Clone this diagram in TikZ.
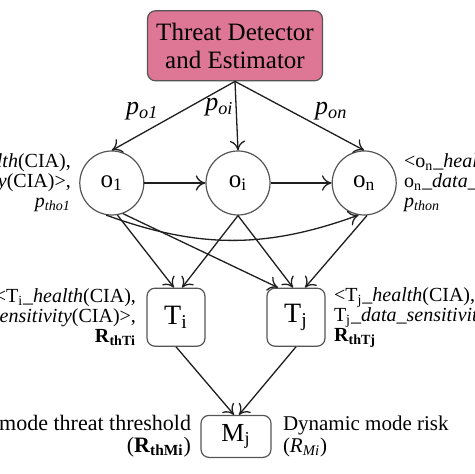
\documentclass[tikz,border=0pt]{standalone}
\usepackage{fontspec}
\setmainfont{Liberation Serif}
\usetikzlibrary{arrows.meta,positioning,calc}
\definecolor{threatpink}{RGB}{222,118,150}
\definecolor{edgegray}{RGB}{85,85,85}
\definecolor{linedark}{RGB}{30,30,30}

\begin{document}
\begin{tikzpicture}[
    node distance=30.5pt,
    box/.style={draw=edgegray,rounded corners=4pt,align=center,line width=0.6pt},
    obj/.style={circle,draw=edgegray,line width=0.6pt,minimum size=32pt,inner sep=0pt,font=\fontsize{12.5}{14}\selectfont},
    arrow/.style={-{To[length=1.7mm,width=2.7mm]},line width=0.65pt,draw=linedark},
    plbl/.style={font=\fontsize{13}{14}\selectfont,inner sep=1pt},
    info/.style={font=\fontsize{10}{10}\selectfont,inner sep=0pt}
  ]
    \useasboundingbox (-119pt,-145.5pt) rectangle (118pt,91.5pt);
    \clip (-119pt,-145.5pt) rectangle (118pt,91.5pt);

    \node[obj] (oi) at (0,0) {o\textsubscript{i}};
    \node[obj,left=of oi] (o1) {o\textsubscript{1}};
    \node[obj,right=of oi] (on) {o\textsubscript{n}};
    \node[box,fill=threatpink,minimum width=87.5pt,minimum height=35pt,above=34.5pt of oi,xshift=-1.5pt,font=\fontsize{12.5}{14}\selectfont] (detector) {Threat Detector\\and Estimator};
    \node[box,minimum size=29pt,below=36pt of oi,xshift=-31pt,font=\fontsize{14}{15}\selectfont] (Ti) {T\textsubscript{i}};
    \node[box,minimum size=29pt,below=36pt of oi,xshift=29pt,font=\fontsize{14}{15}\selectfont] (Tj) {T\textsubscript{j}};
    \node[box,minimum width=35pt,minimum height=21pt,below=34pt of $(Ti.south)!0.5!(Tj.south)$,font=\fontsize{13}{14}\selectfont] (Mj) {M\textsubscript{j}};

    \node[info,left=4pt of o1,align=right] (o1info) {<o\textsubscript{1}\_\textit{health}(CIA),\\o\textsubscript{1}\_\textit{data\_sensitivity}(CIA)>,\\\textit{p}\textsubscript{\textit{tho1}}};
    \node[info,right=3.5pt of on,align=left] (oninfo) {<o\textsubscript{n}\_\textit{health}(CIA),\\o\textsubscript{n}\_\textit{data\_sensitivity}(CIA)>,\\\textit{p}\textsubscript{\textit{thon}}};
    \node[info,left=5pt of Ti,align=right] (Tiinfo) {<T\textsubscript{i}\_\textit{health}(CIA),\\T\textsubscript{i}\_\textit{data\_sensitivity}(CIA)>,\\\textbf{R}\textsubscript{\textbf{thTi}}};
    \node[info,right=4pt of Tj,align=left] (Tjinfo) {<T\textsubscript{j}\_\textit{health}(CIA),\\T\textsubscript{j}\_\textit{data\_sensitivity}(CIA)>,\\\textbf{R}\textsubscript{\textbf{thTj}}};
    \node[info,left=4.5pt of Mj,align=right,font=\fontsize{11}{11}\selectfont] (static) {Static mode threat threshold\\(\textbf{R}\textsubscript{\textbf{thMi}})};
    \node[info,right=5.5pt of Mj,align=left,font=\fontsize{10.5}{11}\selectfont] (dynamic) {Dynamic mode risk\\(\textit{R}\textsubscript{\textit{Mi}})};

    \draw[arrow] (detector.south) -- node[plbl,pos=0.6,above left] {\textit{p}\textsubscript{\textit{o1}}} (o1.north);
    \draw[arrow] (detector.south) -- node[plbl,pos=0.38,left] {\textit{p}\textsubscript{\textit{oi}}} (oi.north);
    \draw[arrow] (detector.south) -- node[plbl,pos=0.6,above right] {\textit{p}\textsubscript{\textit{on}}} (on.north);
    \draw[arrow] (o1) -- (oi);
    \draw[arrow] (oi) -- (on);
    \draw[arrow] (o1.-80) -- ([xshift=-1pt]Ti.north);
    \draw[arrow] (o1.-70) -- ([xshift=-9pt]Tj.north);
    \draw[arrow] (o1.-100) to[out=-20,in=-160] (on.-100);
    \draw[arrow] (oi.south) -- ([xshift=3pt]Ti.north);
    \draw[arrow] (oi.south) -- ([xshift=-1.5pt]Tj.north);
    \draw[arrow] (on.-85) -- ([xshift=4.5pt]Tj.north);
    \draw[arrow] (Ti.south) -- ([xshift=-1pt]Mj.north);
    \draw[arrow] (Tj.south) -- ([xshift=1.5pt]Mj.north);
  \end{tikzpicture}
\end{document}
